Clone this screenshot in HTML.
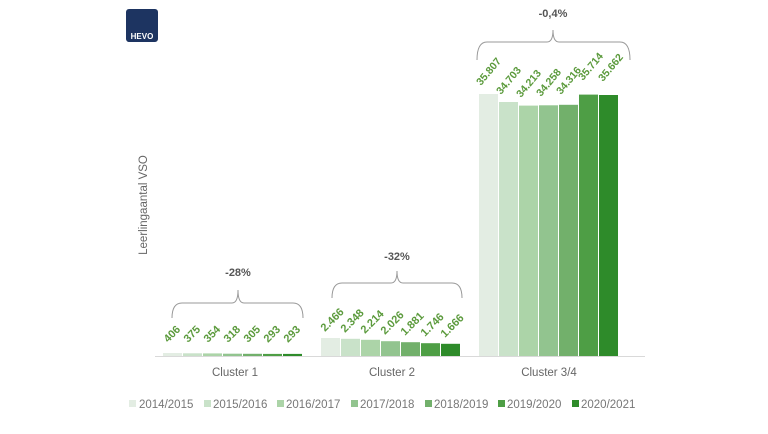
<!DOCTYPE html>
<html><head><meta charset="utf-8"><style>
html,body{margin:0;padding:0;background:#fff;}
svg{display:block;font-family:"Liberation Sans",sans-serif;}
</style></head><body>
<svg width="768" height="434" viewBox="0 0 768 434" xmlns="http://www.w3.org/2000/svg">
<rect x="126" y="9" width="32" height="33" rx="3" fill="#1d3461"/>
<text x="142" y="39" font-size="8" font-weight="bold" fill="#fff" text-anchor="middle">HEVO</text>
<text transform="translate(147,205) rotate(-90)" font-size="11.5" fill="#666" text-anchor="middle">Leerlingaantal VSO</text>
<line x1="155" y1="356.5" x2="645" y2="356.5" stroke="#d9d9d9" stroke-width="1"/>
<g id="bars">
<rect x="163" y="353" width="19" height="3" fill="#e3ede3"/>
<rect x="183" y="353.3" width="19" height="2.7" fill="#c9e2c9"/>
<rect x="203" y="353.4" width="19" height="2.6" fill="#acd4a8"/>
<rect x="223" y="353.7" width="19" height="2.3" fill="#92c48f"/>
<rect x="243" y="353.8" width="19" height="2.2" fill="#72b06b"/>
<rect x="263" y="353.9" width="19" height="2.1" fill="#4e9e45"/>
<rect x="283" y="353.9" width="19" height="2.1" fill="#2e8b2a"/>
<rect x="321" y="338" width="19" height="18" fill="#e3ede3"/>
<rect x="341" y="338.8" width="19" height="17.2" fill="#c9e2c9"/>
<rect x="361" y="339.8" width="19" height="16.2" fill="#acd4a8"/>
<rect x="381" y="341.2" width="19" height="14.8" fill="#92c48f"/>
<rect x="401" y="342.2" width="19" height="13.8" fill="#72b06b"/>
<rect x="421" y="343.2" width="19" height="12.8" fill="#4e9e45"/>
<rect x="441" y="343.8" width="19" height="12.2" fill="#2e8b2a"/>
<rect x="479" y="94" width="19" height="262" fill="#e3ede3"/>
<rect x="499" y="102" width="19" height="254" fill="#c9e2c9"/>
<rect x="519" y="105.6" width="19" height="250.4" fill="#acd4a8"/>
<rect x="539" y="105.3" width="19" height="250.7" fill="#92c48f"/>
<rect x="559" y="104.8" width="19" height="251.2" fill="#72b06b"/>
<rect x="579" y="94.6" width="19" height="261.4" fill="#4e9e45"/>
<rect x="599" y="95" width="19" height="261" fill="#2e8b2a"/>
</g>
<g font-size="11" font-weight="bold" fill="#5b9a3c">
<text transform="translate(168,343) rotate(-45)">406</text>
<text transform="translate(188,343) rotate(-45)">375</text>
<text transform="translate(208,343) rotate(-45)">354</text>
<text transform="translate(228,343) rotate(-45)">318</text>
<text transform="translate(248,343) rotate(-45)">305</text>
<text transform="translate(268,343) rotate(-45)">293</text>
<text transform="translate(288,343) rotate(-45)">293</text>
<text transform="translate(325,332) rotate(-45)">2.466</text>
<text transform="translate(345,333) rotate(-45)">2.348</text>
<text transform="translate(365,334) rotate(-45)">2.214</text>
<text transform="translate(385,335) rotate(-45)">2.026</text>
<text transform="translate(405,336) rotate(-45)">1.881</text>
<text transform="translate(425,337) rotate(-45)">1.746</text>
<text transform="translate(445,338) rotate(-45)">1.666</text>
</g>
<g font-size="10.5" font-weight="bold" fill="#5b9a3c">
<text transform="translate(481,86) rotate(-50)">35.807</text>
<text transform="translate(501,95) rotate(-50)">34.703</text>
<text transform="translate(521,98) rotate(-50)">34.213</text>
<text transform="translate(541,97) rotate(-50)">34.258</text>
<text transform="translate(561,95) rotate(-50)">34.316</text>
<text transform="translate(583,81) rotate(-50)">35.714</text>
<text transform="translate(603,82) rotate(-50)">35.662</text>
</g>
<g fill="none" stroke="#999" stroke-width="1">
<path d="M172,318 Q172,303 182,303 L232,303 Q238,303 238,290 Q238,303 244,303 L293,303 Q303,303 303,318"/>
<path d="M332,298 Q332,283 342,283 L391,283 Q397,283 397,271 Q397,283 403,283 L452,283 Q462,283 462,298"/>
<path d="M477,60 Q477,42 487,42 L547,42 Q553,42 553,30 Q553,42 559,42 L620,42 Q630,42 630,60"/>
</g>
<g font-size="11" font-weight="bold" fill="#555" text-anchor="middle">
<text x="238" y="276">-28%</text>
<text x="397" y="260">-32%</text>
<text x="553" y="17">-0,4%</text>
</g>
<g font-size="11.5" fill="#666" text-anchor="middle">
<text x="235" y="376">Cluster 1</text>
<text x="392" y="376">Cluster 2</text>
<text x="549" y="376">Cluster 3/4</text>
</g>
<g font-size="11.5" fill="#777">
<rect x="129" y="400" width="7" height="7" fill="#e3ede3"/><text x="139" y="408">2014/2015</text>
<rect x="204" y="400" width="7" height="7" fill="#c9e2c9"/><text x="213" y="408">2015/2016</text>
<rect x="277" y="400" width="7" height="7" fill="#acd4a8"/><text x="286" y="408">2016/2017</text>
<rect x="351" y="400" width="7" height="7" fill="#92c48f"/><text x="360" y="408">2017/2018</text>
<rect x="425" y="400" width="7" height="7" fill="#72b06b"/><text x="434" y="408">2018/2019</text>
<rect x="498" y="400" width="7" height="7" fill="#4e9e45"/><text x="507" y="408">2019/2020</text>
<rect x="572" y="400" width="7" height="7" fill="#2e8b2a"/><text x="581" y="408">2020/2021</text>
</g>
</svg>
</body></html>
